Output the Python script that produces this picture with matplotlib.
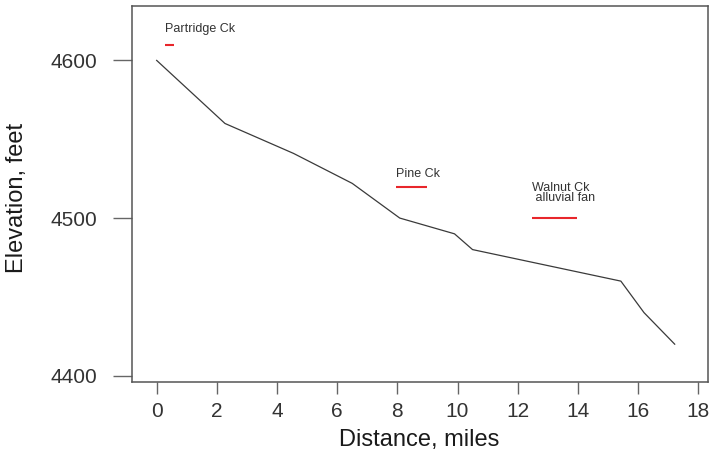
import matplotlib
matplotlib.use("Agg")
import matplotlib.pyplot as plt

plt.rcParams['font.family'] = ['Liberation Sans', 'DejaVu Sans']

# Profile data
distance_mi = [0, 2.27, 4.55, 6.5, 8.08, 9.9, 10.5, 15.43, 16.2, 17.22]
elevation_ft = [4600, 4560, 4541, 4522, 4500, 4490, 4480, 4460, 4440, 4420]

# Annotated reaches (red segments)
reach_names = ["Partridge Ck", "Pine Ck", "Walnut Ck\n alluvial fan"]
reach_start = [0.28, 7.97, 12.47]
reach_end = [0.58, 8.97, 13.97]
reach_elev = [4610, 4520, 4500]
label_elev = [4620, 4528, 4516]

x_ticks = [0, 2, 4, 6, 8, 10, 12, 14, 16, 18]
y_ticks = [4400, 4500, 4600]

W, H = 710, 466
fig = plt.figure(figsize=(W / 100, H / 100), dpi=100)
left, right, top, bottom = 131.7, 707.5, 5.7, 381.7
ax = fig.add_axes([left / W, 1 - bottom / H, (right - left) / W, (bottom - top) / H])

ax.plot(distance_mi, elevation_ft, color='#3a3a3a', lw=0.9)
for name, x0, x1, ye, yl in zip(reach_names, reach_start, reach_end, reach_elev, label_elev):
    ax.plot([x0, x1], [ye, ye], color='#e8262b', lw=1.5, solid_capstyle='butt')
    ax.text(x0, yl, name, fontsize=9, color='#333333', ha='left', va='center',
            linespacing=0.8)

ax.set_xlim(-0.83, 18.31)
ax.set_ylim(4396.2, 4634.7)
ax.set_xticks(x_ticks)
ax.set_yticks(y_ticks)
ax.set_xticklabels([str(v) for v in x_ticks])
ax.set_yticklabels([str(v) for v in y_ticks])

for s in ax.spines.values():
    s.set_color('#555555')
    s.set_linewidth(1.1)

ax.tick_params(axis='x', direction='out', length=8.4, width=1.0, color='#666666',
               labelsize=15, labelcolor='#333333', pad=6)
ax.tick_params(axis='y', direction='out', length=13.7, width=1.0, color='#666666',
               labelsize=15, labelcolor='#333333', pad=11)

fig.text(419.6 / W, 1 - 440 / H, "Distance, miles", fontsize=17, color='#1a1a1a',
         ha='center', va='center')
fig.text(17.5 / W, 1 - 198 / H, "Elevation, feet", fontsize=17, color='#1a1a1a',
         ha='center', va='center', rotation=90)

fig.savefig("out.png", dpi=100)
